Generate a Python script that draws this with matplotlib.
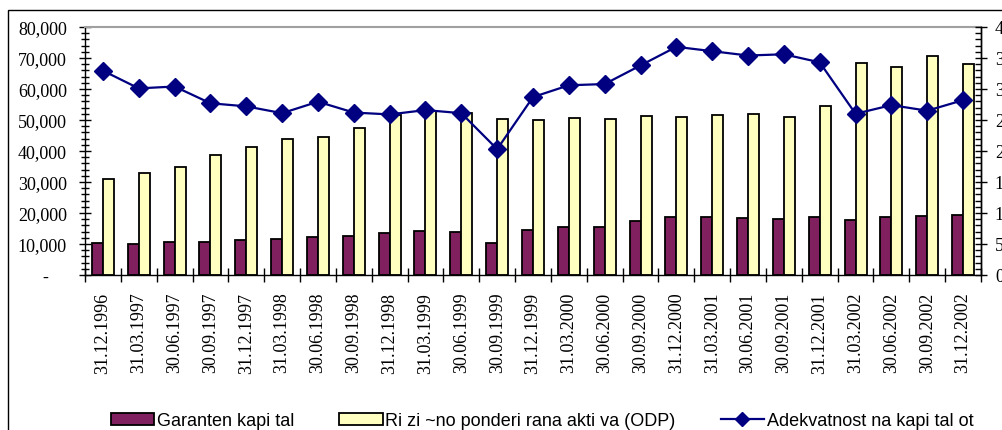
import matplotlib
matplotlib.use('Agg')
import matplotlib.pyplot as plt
from matplotlib.ticker import MultipleLocator, FuncFormatter
from matplotlib.lines import Line2D
from matplotlib.patches import Patch, Rectangle
import numpy as np

plt.rcParams['font.family'] = ['Liberation Serif', 'DejaVu Serif']

dates = ['31.12.1996', '31.03.1997', '30.06.1997', '30.09.1997', '31.12.1997',
         '31.03.1998', '30.06.1998', '30.09.1998', '31.12.1998', '31.03.1999',
         '30.06.1999', '30.09.1999', '31.12.1999', '31.03.2000', '30.06.2000',
         '30.09.2000', '31.12.2000', '31.03.2001', '30.06.2001', '30.09.2001',
         '31.12.2001', '31.03.2002', '30.06.2002', '30.09.2002', '31.12.2002']

garanten = [10200, 9900, 10650, 10650, 11300, 11500, 12350, 12450, 13450, 14190,
            13760, 10320, 14410, 15590, 15480, 17420, 18820, 18710, 18490, 18060,
            18820, 17900, 18600, 19140, 19350]

rizicno = [31100, 33000, 34950, 38700, 41400, 43870, 44600, 47500, 51500, 53000,
           52260, 50450, 50100, 50800, 50200, 51400, 51000, 51700, 52040, 50860,
           54620, 68300, 67200, 70750, 68000]

adekvatnost = [32.95, 30.1, 30.4, 27.7, 27.2, 26.1, 27.95, 26.2, 25.9, 26.6,
               26.1, 20.3, 28.7, 30.6, 30.8, 33.8, 36.8, 36.1, 35.4, 35.6,
               34.3, 26.0, 27.4, 26.5, 28.2]

labels = ['Garanten kapi tal', 'Ri zi ~no ponderi rana akti va (ODP)', 'Adekvatnost na kapi tal ot']

maroon = '#80205f'
yellow = '#ffffc0'
navy = '#000080'

W, H = 1003, 431
fig = plt.figure(figsize=(W / 100, H / 100), dpi=100)

# outer chart border (cut by the image edge on right and bottom)
fig.patches.append(Rectangle((8 / W, -0.2), 1.2, (H - 11) / H + 0.2, transform=fig.transFigure,
                             fill=False, edgecolor='black', lw=1.0))

ax = fig.add_axes([85 / W, 155 / H, 896 / W, 248 / H])
x = np.arange(len(dates))
w = 0.307
ax.bar(x - w / 2, garanten, w, color=maroon, edgecolor='black', linewidth=1.3, zorder=2)
ax.bar(x + w / 2, rizicno, w, color=yellow, edgecolor='black', linewidth=1.3, zorder=2)

ax.set_xlim(-0.5, len(dates) - 0.5)
ax.set_ylim(0, 80000)
ax.yaxis.set_major_locator(MultipleLocator(10000))
ax.yaxis.set_minor_locator(MultipleLocator(2000))
ax.yaxis.set_major_formatter(FuncFormatter(lambda v, p: '-    ' if v == 0 else f'{v:,.0f}'))
ax.set_xticks(x)
ax.set_xticklabels(dates, rotation=90)
ax.set_xticks(np.arange(-0.5, len(dates), 1), minor=True)
ax.tick_params(axis='x', which='major', length=0, pad=12, labelsize=13)
ax.tick_params(axis='x', which='minor', direction='inout', length=10, width=1)
ax.tick_params(axis='y', which='major', direction='inout', length=8, width=1, pad=9, labelsize=13)
ax.tick_params(axis='y', which='minor', direction='inout', length=6, width=1)
for s in ['left', 'bottom', 'right']:
    ax.spines[s].set_linewidth(1.0)
ax.spines['top'].set_color('#a0a0a0')
ax.spines['top'].set_linewidth(1.5)

ax2 = ax.twinx()
ax2.plot(x, adekvatnost, color=navy, lw=1.6, marker='D', markersize=9, zorder=3)
ax2.set_ylim(0, 40)
ax2.yaxis.set_major_locator(MultipleLocator(5))
ax2.yaxis.set_minor_locator(MultipleLocator(1))
ax2.tick_params(axis='y', which='major', direction='inout', length=8, width=1, pad=6, labelsize=13)
ax2.tick_params(axis='y', which='minor', direction='in', length=4, width=1)
for s in ['left', 'bottom', 'top']:
    ax2.spines[s].set_visible(False)
ax2.spines['right'].set_linewidth(1.0)

handles = [Patch(facecolor=maroon, edgecolor='black', linewidth=1.3),
           Patch(facecolor=yellow, edgecolor='black', linewidth=1.3),
           Line2D([], [], color=navy, lw=1.6, marker='D', markersize=7)]
fig.legend(handles, labels, ncol=3, loc='center', bbox_to_anchor=(542 / W, 1 - 422 / H),
           frameon=False, handlelength=2.4, handleheight=0.6, handletextpad=0.15,
           columnspacing=2.5, borderpad=0,
           prop={'family': ['Liberation Sans', 'DejaVu Sans'], 'size': 13})

fig.savefig('out.png', dpi=100)
